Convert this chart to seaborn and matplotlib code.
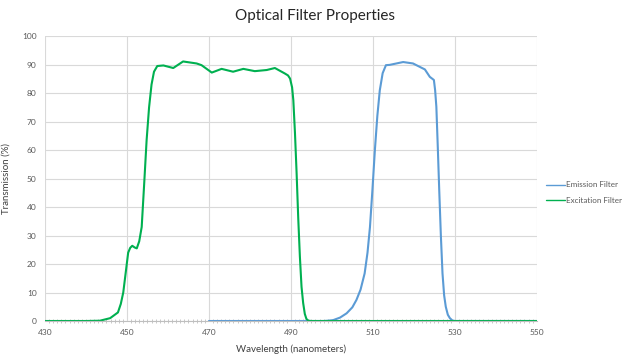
import pandas as pd
import seaborn as sns
import matplotlib.pyplot as plt
from matplotlib.ticker import MultipleLocator

# excitation filter
exc_nm = [430, 440, 443.4, 445.9, 447.8, 448.5, 449.1, 449.7, 450.3, 450.8, 451.3, 451.9,
          452.4, 453.0, 453.6, 454.2, 454.8, 455.4, 456.0, 456.6, 457.4, 458.9, 461.3,
          463.7, 467.0, 468.2, 470.7, 473.1, 475.9, 478.4, 481.2, 484.1, 486.1, 488.5,
          489.3, 489.8, 490.3, 490.6, 491.0, 491.4, 491.8, 492.2, 492.6, 493.0, 493.4,
          493.8, 494.3, 495, 550]
exc_t = [0, 0, 0.1, 1.0, 3.0, 6.0, 10.0, 17.0, 24.0, 25.7, 26.4, 25.8,
         25.5, 28.0, 33.0, 48.0, 63.5, 75.0, 83.0, 87.5, 89.5, 89.7, 88.8,
         91.1, 90.4, 89.8, 87.2, 88.5, 87.5, 88.5, 87.7, 88.1, 88.8, 86.9,
         86.2, 85.1, 82.0, 77.5, 66.0, 51.9, 36.0, 22.6, 12.0, 6.3, 2.5,
         0.7, 0.1, 0, 0]

# emission filter
emi_nm = [470, 498, 499, 500.3, 502, 503.6, 505, 506.0, 507, 508.0, 508.7, 509.3, 509.9,
          510.5, 511.1, 511.7, 512.4, 513.2, 514.1, 517.4, 519.8, 522.7, 523.9, 524.9,
          525.2, 525.5, 525.85, 526.2, 526.6, 527.0, 527.4, 527.8, 528.3, 528.8, 529.4,
          530, 550]
emi_t = [0, 0, 0.1, 0.3, 1.2, 2.7, 4.8, 7.4, 11.0, 16.7, 24.0, 33.0, 46.0,
         60.0, 72.0, 81.0, 87.0, 89.8, 89.9, 90.9, 90.4, 88.3, 85.7, 84.6,
         81.0, 75.2, 61.0, 46.0, 30.0, 16.7, 9.0, 5.0, 2.2, 1.0, 0.2,
         0, 0]

x_ticks = [430, 450, 470, 490, 510, 530, 550]

df = pd.concat([
    pd.DataFrame({'nm': emi_nm, 't': emi_t, 'filter': 'Emission Filter'}),
    pd.DataFrame({'nm': exc_nm, 't': exc_t, 'filter': 'Excitation Filter'}),
])

sns.set_style('white')
plt.rcParams['font.family'] = ['Lato', 'DejaVu Sans']

fig = plt.figure(figsize=(6.3, 3.54), dpi=100)
ax = fig.add_axes([0.0714, 0.0932, 0.7806, 0.8048])

sns.lineplot(data=df, x='nm', y='t', hue='filter', sort=False, estimator=None,
             palette={'Emission Filter': '#5B9BD5', 'Excitation Filter': '#00B050'},
             linewidth=1.5, ax=ax)

ax.set_xlim(430, 550)
ax.set_ylim(0, 100)
ax.set_xticks(x_ticks)
ax.xaxis.set_minor_locator(MultipleLocator(1))
ax.set_yticks(range(0, 101, 10))
ax.grid(True, which='major', color='#D9D9D9', linewidth=0.8)
for s in ['top', 'right', 'left']:
    ax.spines[s].set_visible(False)
ax.spines['bottom'].set_color('#BFBFBF')
ax.tick_params(axis='both', which='major', labelsize=6, colors='#595959', length=0, pad=6)
ax.tick_params(axis='x', which='minor', bottom=True, length=3, width=0.6,
               color='#BFBFBF', direction='inout')

ax.set_xlabel('Wavelength (nanometers)', fontsize=7, color='#404040', labelpad=6)
ax.set_ylabel('Transmission (%)', fontsize=7, color='#404040', labelpad=8)
fig.suptitle('Optical Filter Properties', fontsize=11, color='#262626', x=0.5, y=0.975)

leg = ax.legend(loc='center left', bbox_to_anchor=(1.005, 0.45), frameon=False,
                fontsize=5.8, handlelength=2.3, handletextpad=0.1, labelspacing=1.1)
for t in leg.get_texts():
    t.set_color('#595959')
for h in leg.get_lines():
    h.set_linewidth(1)

fig.savefig('out.png', dpi=100)
